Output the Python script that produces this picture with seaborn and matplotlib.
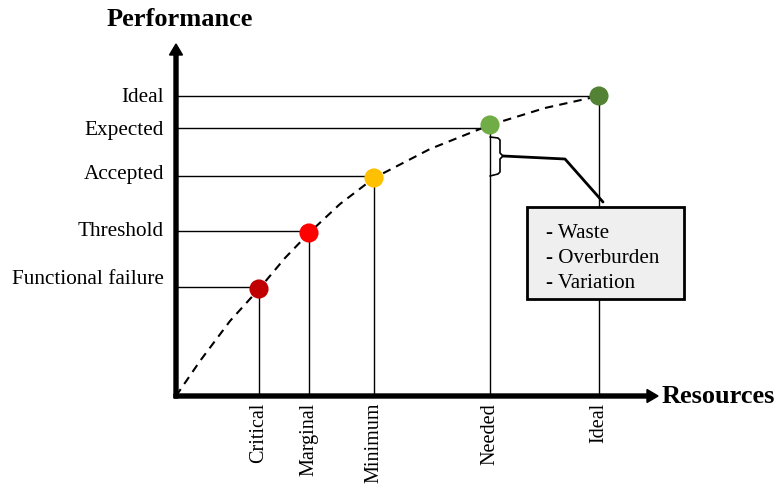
import numpy as np
import pandas as pd
import matplotlib.pyplot as plt
from matplotlib.patches import Rectangle
import seaborn as sns

# Levels (units ~ pixels from the axis origin)
x_levels = ["Critical", "Marginal", "Minimum", "Needed", "Ideal"]
y_levels = ["Functional failure", "Threshold", "Accepted", "Expected", "Ideal"]
point_x = [83, 133, 198, 314, 423]
point_y = [107, 163, 218, 271, 300]
guide_y = [109, 165, 220, 268, 300]
label_y = [118, 166, 223, 267, 300]
point_colors = ["#C00000", "#FF0000", "#FFC000", "#70AD47", "#548235"]

# dashed performance curve
curve_x = [0, 24, 54, 83, 109, 133, 164, 198, 254, 314, 369, 423]
curve_y = [0, 35, 75, 107, 138, 163, 192, 218, 247, 271, 288, 300]

box_items = ["- Waste", "- Overburden", "- Variation"]

sns.set_theme(style="white")
plt.rcParams["font.family"] = ["Liberation Serif", "DejaVu Serif"]
plt.rcParams["text.color"] = "black"

fig = plt.figure(figsize=(7.77, 4.85), dpi=100)
ax = fig.add_axes([0, 0, 1, 1])
ax.set_xlim(-176, 601)
ax.set_ylim(-88, 397)
ax.axis("off")

# guide lines
for px, py, gy in zip(point_x, point_y, guide_y):
    ax.plot([0, px], [gy, gy], color="black", lw=1, zorder=1)
    ax.plot([px, px], [0, py], color="black", lw=1, zorder=1)

curve = pd.DataFrame({"x": curve_x, "y": curve_y})
sns.lineplot(data=curve, x="x", y="y", ax=ax, color="black", lw=1.5,
             linestyle=(0, (4, 3)), sort=False, zorder=2)

pts = pd.DataFrame({"x": point_x, "y": point_y, "level": x_levels})
sns.scatterplot(data=pts, x="x", y="y", hue="level", palette=point_colors,
                s=190, edgecolor="none", legend=False, ax=ax, zorder=5)

# axes with arrows
ax.arrow(-2, 0, 484, 0, width=4, head_width=13, head_length=11,
         length_includes_head=True, color="black", zorder=6)
ax.arrow(0, -2, 0, 354, width=4, head_width=13, head_length=11,
         length_includes_head=True, color="black", zorder=6)
ax.text(4, 377, "Performance", ha="center", va="center", fontsize=19, fontweight="bold")
ax.text(486, 0, "Resources", ha="left", va="center", fontsize=19, fontweight="bold")

for lab, ly in zip(y_levels, label_y):
    ax.text(-12, ly, lab, ha="right", va="center", fontsize=15.3)
for lab, px in zip(x_levels, point_x):
    ax.text(px, -6, lab, ha="center", va="top", rotation=90, fontsize=14.5)

# brace next to the "Needed" gap
ax.plot([314, 322, 324, 324, 327, 324, 324, 322, 314],
        [259, 258, 256, 243, 240, 237, 224, 222, 220], color="black", lw=1.2, zorder=3)
ax.plot([327, 389, 427], [240, 237, 194], color="black", lw=2, zorder=3)

ax.add_patch(Rectangle((351, 97), 157, 92, facecolor="#EFEFEF", edgecolor="black",
                       lw=2, zorder=7))
for i, item in enumerate(box_items):
    ax.text(370, 163 - 24.5 * i, item, ha="left", va="center", fontsize=15.2, zorder=8)

fig.savefig("out.png", dpi=100)
